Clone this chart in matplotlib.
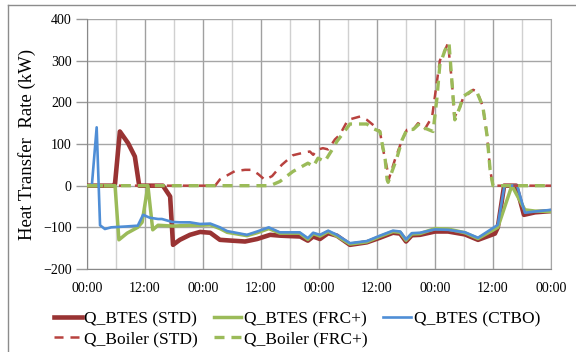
import matplotlib
matplotlib.use("Agg")
import matplotlib.pyplot as plt
from matplotlib.lines import Line2D

plt.rcParams['font.family'] = ['Liberation Serif', 'DejaVu Serif']
plt.rcParams['lines.scale_dashes'] = False

# ---- data (hours from start, kW) ----
t_btes_std = [0, 5.4, 5.8, 6.8, 8.5, 9.9, 10.8, 15.7, 17.2, 17.8, 19.2, 21.3, 23.4, 24.4, 25.5, 27.5,
              30.0, 32.7, 35.2, 37.9, 40.0, 42.0, 44.1, 45.7, 46.8, 48.2, 49.9, 51.7, 54.4, 57.9,
              60.6, 63.3, 64.8, 66.0, 67.2, 68.9, 72.0, 74.7, 78.2, 80.9, 84.4, 85.0, 86.3, 88.8,
              90.4, 92.7, 96.0]
q_btes_std = [0, 0, 5, 130, 102, 70, 0, 0, -26, -142, -130, -118, -111, -112, -113, -130,
              -132, -134, -128, -118, -120, -121, -122, -132, -122, -128, -114, -120, -142, -136,
              -125, -113, -115, -134, -119, -118, -110, -110, -117, -130, -115, -100, 0, 0,
              -70, -64, -61]

t_btes_frc = [0, 5.8, 6.6, 8.3, 10.5, 11.4, 12.6, 13.6, 14.7, 17.8, 21.3, 23.4, 25.5, 27.5, 29.0,
              33.1, 35.2, 37.6, 39.9, 44.0, 45.7, 46.8, 48.2, 49.9, 51.7, 54.4, 57.9, 60.6, 63.3,
              64.8, 66.0, 67.2, 68.9, 72.0, 74.7, 78.2, 80.9, 85.0, 87.9, 90.6, 92.7, 96.0]
q_btes_frc = [0, 0, -130, -114, -100, -88, 0, -106, -95, -97, -95, -95, -94, -103, -112,
              -120, -113, -103, -114, -114, -129, -115, -121, -110, -121, -140, -135, -122, -110,
              -112, -131, -116, -115, -103, -104, -113, -127, -100, 0, -58, -61, -62]

t_btes_ctbo = [0, 1.0, 2.0, 2.7, 3.7, 5.0, 8.0, 10.5, 11.6, 13.0, 14.7, 15.5, 17.6, 19.2, 21.3,
               23.4, 25.5, 27.5, 29.0, 33.1, 35.2, 37.6, 39.9, 44.0, 45.7, 46.8, 48.2, 49.9, 51.7,
               54.4, 57.9, 60.6, 63.3, 64.8, 66.0, 67.2, 68.9, 72.0, 74.7, 78.2, 80.9, 85.0, 86.3,
               86.5, 89.0, 90.6, 92.7, 96.0]
q_btes_ctbo = [0, 0, 140, -95, -104, -100, -98, -96, -70, -77, -80, -80, -87, -88, -88,
               -92, -91, -100, -109, -118, -110, -100, -112, -112, -126, -113, -118, -108, -118,
               -138, -133, -120, -108, -110, -129, -114, -113, -105, -106, -112, -125, -94, -5,
               0, 0, -65, -62, -58]

t_boiler_std = [0, 26.5, 27.5, 30.6, 32.7, 34.1, 35.4, 36.8, 38.3, 40.3, 42.6, 45.1, 46.1, 46.8,
                47.6, 48.8, 49.9, 51.3, 52.3, 54.0, 56.5, 57.9, 59.6, 60.6, 61.2, 62.1, 62.4, 63.7,
                65.2, 66.2, 67.5, 68.5, 69.9, 71.4, 72.4, 73.0, 74.1, 74.7, 75.1, 75.5, 76.0, 77.2,
                77.8, 79.9, 80.7, 81.9, 82.8, 83.4, 84.0, 96.0]
q_boiler_std = [0, 0, 15, 35, 38, 38, 28, 14, 23, 50, 73, 80, 82, 74,
                86, 90, 87, 111, 122, 158, 166, 158, 142, 130, 90, 40, 14, 62,
                110, 134, 135, 150, 136, 165, 250, 300, 326, 342, 294, 250, 164, 190,
                210, 230, 226, 190, 118, 38, 0, 0]

t_boiler_frc = [0, 37.9, 39.9, 42.6, 45.7, 46.3, 46.8, 47.8, 49.2, 50.7, 51.7, 53.0, 54.4, 56.1,
                57.9, 59.0, 60.6, 61.7, 62.1, 62.3, 64.1, 65.2, 66.2, 67.5, 68.9, 69.9, 71.6, 72.4,
                73.0, 74.1, 74.9, 75.5, 76.1, 77.2, 77.8, 79.9, 80.7, 81.9, 82.8, 83.4, 84.0, 96.0]
q_boiler_frc = [0, 0, 10, 34, 54, 50, 46, 66, 58, 86, 106, 126, 148, 148,
                148, 138, 130, 62, 14, 8, 66, 110, 135, 135, 150, 138, 130, 210,
                290, 326, 342, 250, 158, 190, 214, 230, 224, 190, 118, 38, 0, 0]

x_ticks = [0, 12, 24, 36, 48, 60, 72, 84, 96]
x_tick_labels = ['00:00', '12:00', '00:00', '12:00', '00:00', '12:00', '00:00', '12:00', '00:00']
y_ticks = [-200, -100, 0, 100, 200, 300, 400]

labels = ['Q_BTES (STD)', 'Q_BTES (FRC+)', 'Q_BTES (CTBO)', 'Q_Boiler (STD)', 'Q_Boiler (FRC+)']

# ---- figure ----
W, H = 576, 352
fig = plt.figure(figsize=(W / 100, H / 100), dpi=100)
ax = fig.add_axes([87 / W, 1 - 269 / H, (551 - 87) / W, (269 - 19) / H])

l1, = ax.plot(t_btes_std, q_btes_std, color='#993333', lw=3.3, solid_joinstyle='round', zorder=3)
l2, = ax.plot(t_btes_frc, q_btes_frc, color='#9BBB59', lw=2.5, solid_joinstyle='round', zorder=4)
l3, = ax.plot(t_btes_ctbo, q_btes_ctbo, color='#4F8ED6', lw=1.9, solid_joinstyle='round', zorder=5)
l4, = ax.plot(t_boiler_std, q_boiler_std, color='#B8423F', lw=1.8, dashes=(6.5, 5), zorder=6)
l5, = ax.plot(t_boiler_frc, q_boiler_frc, color='#9BBB59', lw=2.4, dashes=(7.2, 5), zorder=7)

ax.set_xlim(0, 96)
ax.set_ylim(-200, 400)
ax.set_xticks(x_ticks)
ax.set_xticklabels(x_tick_labels)
ax.set_xticks(range(6, 96, 12), minor=True)
ax.set_yticks(y_ticks)

ax.grid(axis='x', which='major', color='#a0a0a0', lw=1.0, zorder=0)
ax.grid(axis='x', which='minor', color='#d0d0d0', lw=1.0, zorder=0)
ax.grid(axis='y', which='major', color='#a6a6a6', lw=1.0, zorder=0)

for s in ['left', 'bottom']:
    ax.spines[s].set_color('#888888')
ax.spines['right'].set_color('#a6a6a6')
ax.spines['top'].set_visible(False)

ax.tick_params(axis='y', direction='out', length=8, width=1, color='#999999',
               labelsize=10, pad=3)
ax.tick_params(axis='x', which='both', length=0, labelsize=10, pad=9)

ax.set_ylabel('Heat Transfer  Rate (kW)', fontsize=13.5, labelpad=5)
ax.yaxis.set_label_coords(-(87 - 36) / (551 - 87), 0.5)

handles = [l1, l4, l2, l5, l3]
leg_labels = [labels[0], labels[3], labels[1], labels[4], labels[2]]
fig.legend(handles, leg_labels, loc='center', bbox_to_anchor=(297 / W, 1 - 329 / H),
           ncol=3, frameon=False, fontsize=12.5, handlelength=1.6, handletextpad=0.15,
           columnspacing=0.9, labelspacing=0.22, borderpad=0)

# chart area border
fig.add_artist(Line2D([8 / W, 8 / W], [0, 1 - 5 / H], color='#8c8c8c', lw=1,
                      transform=fig.transFigure))
fig.add_artist(Line2D([8 / W, 1], [1 - 5 / H, 1 - 5 / H], color='#8c8c8c', lw=1,
                      transform=fig.transFigure))

fig.savefig('out.png', dpi=100)
